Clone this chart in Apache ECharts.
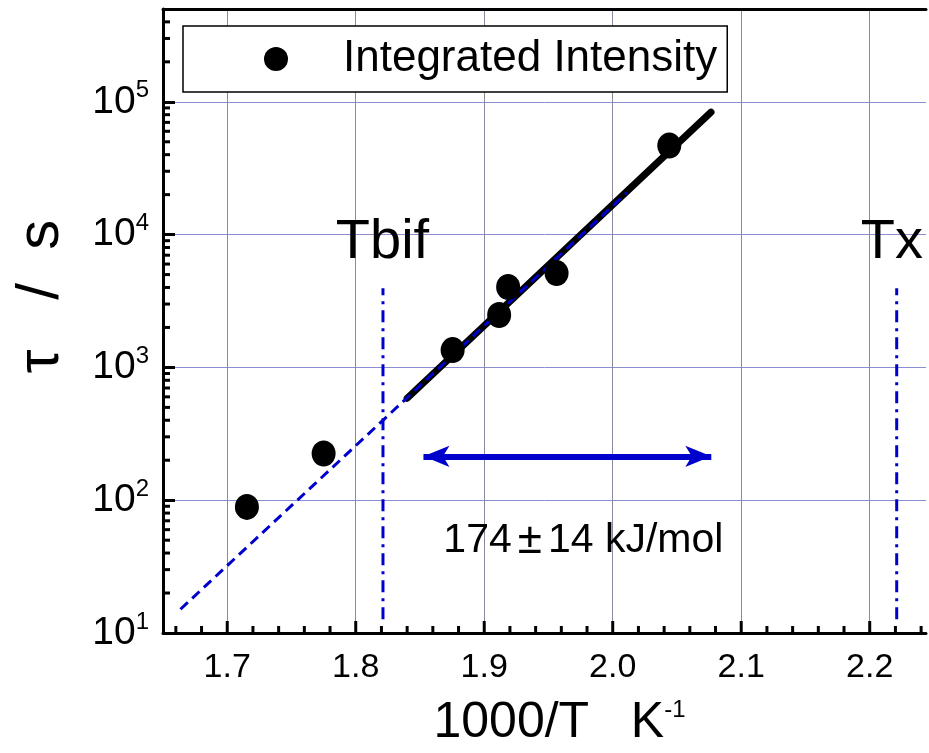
<!DOCTYPE html>
<html>
<head>
<meta charset="utf-8">
<script src="https://cdn.jsdelivr.net/npm/echarts@6/dist/echarts.min.js"></script>
<style>html,body{margin:0;padding:0;background:#fff;}#c{width:929px;height:753px;}</style>
</head>
<body>
<div id="c"></div>
<script>
// ---- data ----
const pointsX = [1.7153, 1.775, 1.8754, 1.9116, 1.9186, 1.9563, 2.044];
const pointsY = [89, 225, 1350, 2480, 4030, 5130, 46800];
const blackFitX = [1.84, 2.0765];
const blackFitY = [586, 83600];
const blueFitX = [1.6636, 2.011];
const blueFitY = [15.1, 20700];
const tbifX = [1.8212, 1.8212];
const tbifY = [12.7, 3950];
const txX = [2.221, 2.221];
const txY = [12.7, 3950];
const arrowX = [1.8527, 2.0767];
const arrowY = [214, 214];
const annoText = ['Tbif', 'Tx', '174\u00B114 kJ/mol'];
const annoX = [1.7845, 2.193, 1.8682];
const annoY = [8750, 8750, 49.3];
const xMajorTicks = [1.7, 1.8, 1.9, 2.0, 2.1, 2.2];
const xMinorTicks = [1.66, 1.68, 1.72, 1.74, 1.76, 1.78, 1.82, 1.84, 1.86, 1.88, 1.92, 1.94, 1.96, 1.98, 2.02, 2.04, 2.06, 2.08, 2.12, 2.14, 2.16, 2.18, 2.22, 2.24];
const yMinorTicks = [20,30,40,50,60,70,80,90,200,300,400,500,600,700,800,900,2000,3000,4000,5000,6000,7000,8000,9000,20000,30000,40000,50000,60000,70000,80000,90000,200000,300000,400000];
const xMin = 1.65, xMax = 2.2438, yMin = 10, yMax = 500000;
const legendName = 'Integrated Intensity';

const FONT = 'Liberation Sans, Arial, sans-serif';
const BLUE = '#0000cc';

const chart = echarts.init(document.getElementById('c'), null, {renderer: 'canvas'});

function zip(xs, ys) { return xs.map((x, i) => [x, ys[i]]); }

const tickSeriesData = []
  .concat(xMajorTicks.map(v => [0, v, 12]))
  .concat(xMinorTicks.map(v => [0, v, 7]))
  .concat(yMinorTicks.map(v => [1, v, 7]));

const option = {
  animation: false,
  backgroundColor: '#fff',
  grid: {left: 163, top: 9, right: 0, height: 628, show: false},
  legend: {
    show: true,
    data: [legendName],
    left: 183, top: 26,
    orient: 'horizontal',
    backgroundColor: '#fff',
    borderColor: '#000', borderWidth: 1.5,
    padding: [10, 10, 10, 81],
    itemWidth: 24, itemHeight: 26,
    icon: 'circle',
    itemStyle: {opacity: 1, color: '#000'},
    textStyle: {fontFamily: FONT, fontSize: 44, color: '#000', lineHeight: 46, padding: [0, 0, 0, 50]}
  },
  xAxis: [{
    type: 'value', min: xMin, max: xMax, interval: 0.05,
    axisLine: {show: true, onZero: false, lineStyle: {color: '#000', width: 3}},
    axisTick: {show: false},
    axisLabel: {
      fontFamily: FONT, fontSize: 34, color: '#000', margin: 18,
      formatter: v => (Math.abs(v * 10 - Math.round(v * 10)) < 1e-6 && v > xMin + 1e-6 && v < xMax - 1e-6) ? v.toFixed(1) : ''
    },
    splitLine: {show: true, lineStyle: {color: ['rgba(0,0,0,0)', '#8a8a9e'], width: 1}},
    name: '{a|1000/T   K}{s|-1}',
    nameLocation: 'middle', nameGap: 65,
    nameTextStyle: {
      fontFamily: FONT, color: '#000', padding: [0, 0, 0, 30],
      rich: {
        a: {fontFamily: FONT, fontSize: 50, color: '#000'},
        s: {fontFamily: FONT, fontSize: 24, color: '#000', padding: [0, 0, 26, 0]}
      }
    }
  }, {
    type: 'value', position: 'top', min: xMin, max: xMax,
    axisLine: {show: true, onZero: false, lineStyle: {color: '#000', width: 3}},
    axisTick: {show: false}, axisLabel: {show: false}, splitLine: {show: false}
  }],
  yAxis: {
    type: 'log', logBase: 10, min: yMin, max: yMax,
    axisLine: {show: true, onZero: false, lineStyle: {color: '#000', width: 3}},
    axisTick: {show: true, inside: true, length: 12, lineStyle: {color: '#000', width: 3}},
    axisLabel: {
      margin: 14, color: '#000',
      formatter: v => {
        const l = Math.log10(v), e = Math.round(l);
        if (Math.abs(l - e) > 1e-6) return '';
        return '{b|10}{s|' + e + '}';
      },
      rich: {
        b: {fontFamily: FONT, fontSize: 39, color: '#000'},
        s: {fontFamily: FONT, fontSize: 24, color: '#000', padding: [0, 0, 22, 0]}
      }
    },
    splitLine: {show: true, lineStyle: {color: '#8c8cd0', width: 1}},
    name: '\u03C4   /  s',
    nameLocation: 'middle', nameGap: 92, nameRotate: 90,
    nameTextStyle: {fontFamily: FONT, fontSize: 60, color: '#000', padding: [0, 0, 0, 49]}
  },
  series: [
    {
      type: 'custom', silent: true, clip: false, z: 5,
      renderItem: (params, api) => {
        const kind = api.value(0);
        const v = api.value(1), len = api.value(2);
        if (kind === 0) {
          const p = api.coord([v, yMin]);
          return {type: 'line', shape: {x1: p[0], y1: p[1], x2: p[0], y2: p[1] - len}, style: {stroke: '#000', lineWidth: 3}};
        }
        const p = api.coord([xMin, v]);
        return {type: 'line', shape: {x1: p[0], y1: p[1], x2: p[0] + len, y2: p[1]}, style: {stroke: '#000', lineWidth: 3}};
      },
      encode: {x: 1, y: 1},
      data: tickSeriesData
    },
    {
      name: 'fit', type: 'line', data: zip(blackFitX, blackFitY), symbol: 'none', silent: true, z: 3,
      lineStyle: {color: '#000', width: 7, cap: 'round'}
    },
    {
      name: 'fit2', type: 'line', data: zip(blueFitX, blueFitY), symbol: 'none', silent: true, z: 4,
      lineStyle: {color: BLUE, width: 3, type: [10, 6]}
    },
    {
      name: 'tbif', type: 'line', data: zip(tbifX, tbifY), symbol: 'none', silent: true, z: 4,
      lineStyle: {color: BLUE, width: 3, type: [12, 6, 3, 6]}
    },
    {
      name: 'tx', type: 'line', data: zip(txX, txY), symbol: 'none', silent: true, z: 4,
      lineStyle: {color: BLUE, width: 3, type: [12, 6, 3, 6]}
    },
    {
      name: legendName, type: 'scatter', data: zip(pointsX, pointsY),
      symbol: 'circle', symbolSize: [24, 26], z: 6,
      itemStyle: {color: '#000', opacity: 1}
    },
    {
      name: 'anno', type: 'scatter', silent: true, symbolSize: 0, z: 7,
      itemStyle: {opacity: 1},
      data: annoText.map((t, i) => ({value: [annoX[i], annoY[i]], name: t, label: {fontSize: i < 2 ? 56 : 41}})),
      label: {
        show: true, position: [0, 0], align: 'left', verticalAlign: 'middle',
        formatter: p => p.name.replace('\u00B1', '{p|\u00B1}'),
        fontFamily: FONT, color: '#000', opacity: 1,
        rich: {p: {fontFamily: FONT, fontSize: 44, color: '#000', padding: [0, 6, 0, 6]}}
      },
      markLine: {
        silent: true, symbol: ['arrow', 'arrow'], symbolSize: [16, 26],
        label: {show: false},
        lineStyle: {color: BLUE, width: 6, type: 'solid', opacity: 1},
        data: [[{coord: [arrowX[0], arrowY[0]]}, {coord: [arrowX[1], arrowY[1]]}]]
      }
    }
  ]
};

chart.setOption(option);
</script>
</body>
</html>
